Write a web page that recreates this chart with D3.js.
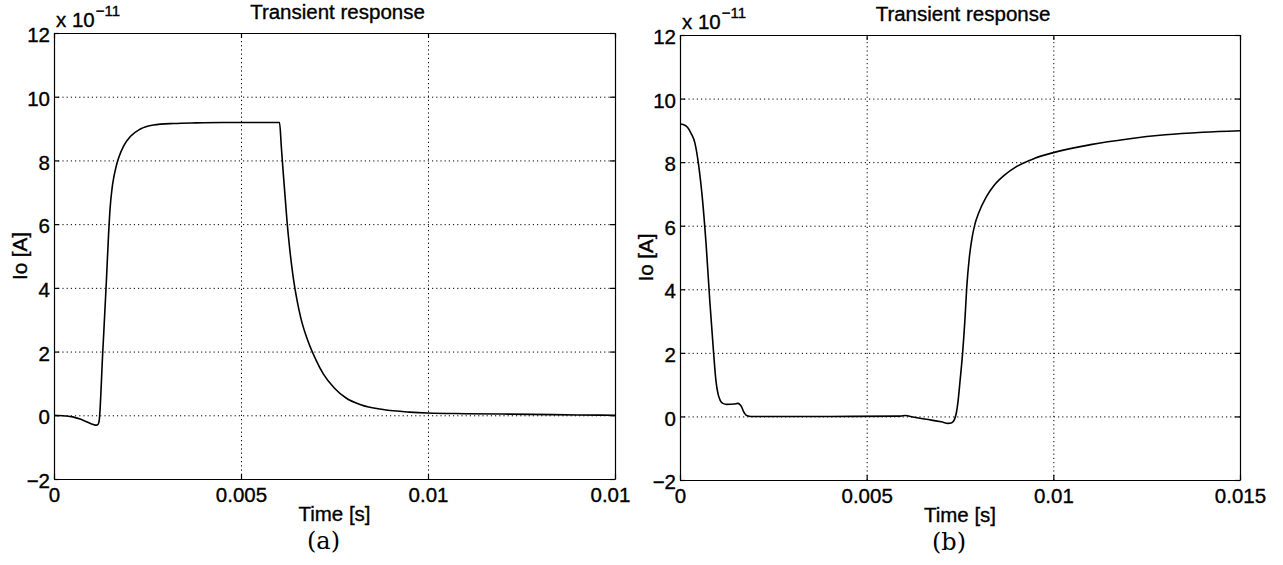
<!DOCTYPE html>
<html>
<head>
<meta charset="utf-8">
<script src="https://cdn.jsdelivr.net/npm/d3@7"></script>
<style>
  html, body { margin: 0; padding: 0; background: #fff; }
  svg { display: block; }
  .lbl { font-family: "Liberation Sans", Arial, Helvetica, sans-serif; fill: #000; stroke: #000; stroke-width: 0.35px; }
  .tag { font-family: "DejaVu Serif", "Liberation Serif", serif; fill: #000; }
</style>
</head>
<body>
<svg id="fig" width="1283" height="565"></svg>
<script>
// Panel (a): output current Io versus time, current in units of 1e-11 A
const timeA = [0, 0.0003, 0.0005, 0.0007, 0.0009, 0.00105, 0.00113, 0.00118, 0.00121, 0.0013,
  0.0014, 0.00146, 0.0015, 0.00155, 0.0016, 0.00166, 0.00172, 0.00186, 0.00204, 0.0023,
  0.00266, 0.0032, 0.0038, 0.0045, 0.00603, 0.00608, 0.00613, 0.00618, 0.00623, 0.0063,
  0.0064, 0.0065, 0.0066, 0.0068, 0.0070, 0.0072, 0.0075, 0.0078, 0.0082, 0.0088,
  0.0095, 0.0100, 0.011, 0.0128, 0.014, 0.015];
const currentA = [0, -0.02, -0.05, -0.12, -0.22, -0.29, -0.31, -0.28, -0.15, 1.9,
  4.2, 5.7, 6.5, 7.1, 7.48, 7.8, 8.05, 8.45, 8.75, 8.98,
  9.11, 9.16, 9.18, 9.19, 9.19, 8.4, 7.6, 6.85, 6.1, 5.25,
  4.3, 3.6, 3.05, 2.3, 1.75, 1.3, 0.85, 0.55, 0.33, 0.18,
  0.1, 0.07, 0.05, 0.03, 0.01, 0.0];

// Panel (b): output current Io versus time, current in units of 1e-11 A
const timeB = [0, 0.0001, 0.0002, 0.0003, 0.0004, 0.0005, 0.0006, 0.0007, 0.0008, 0.0009,
  0.00096, 0.00102, 0.00108, 0.00115, 0.00125, 0.00145, 0.00155, 0.0016, 0.00165, 0.0017,
  0.00174, 0.0018, 0.0019, 0.004, 0.0059, 0.00605, 0.0062, 0.0066, 0.007, 0.00718,
  0.00728, 0.00735, 0.0074, 0.00745, 0.0075, 0.00757, 0.00763, 0.00768, 0.00775, 0.00782,
  0.0079, 0.008, 0.0082, 0.0084, 0.0087, 0.009, 0.0095, 0.01, 0.011, 0.012,
  0.013, 0.014, 0.015];
const currentB = [9.2, 9.18, 9.1, 8.9, 8.6, 7.9, 6.85, 5.4, 3.6, 2.0,
  1.15, 0.7, 0.5, 0.41, 0.38, 0.39, 0.41, 0.38, 0.3, 0.16,
  0.08, 0.02, 0.0, 0.0, 0.01, 0.03, -0.01, -0.09, -0.17, -0.22,
  -0.2, -0.1, 0.1, 0.5, 1.1, 2.0, 3.0, 4.05, 5.0, 5.6,
  6.05, 6.4, 6.9, 7.25, 7.6, 7.85, 8.12, 8.3, 8.55, 8.73,
  8.86, 8.94, 8.99];

// Axis ticks and their labels
const xTicks = [0, 0.005, 0.01, 0.015];
const xTickLabelsA = ["0", "0.005", "0.01", "0.01"];
const xTickLabelsB = ["0", "0.005", "0.01", "0.015"];
const yTicks = [-2, 0, 2, 4, 6, 8, 10, 12];
const yTickLabels = ["\u22122", "0", "2", "4", "6", "8", "10", "12"];

const titleText = "Transient response";
const xLabelText = "Time [s]";
const yLabelText = "Io [A]";
const scaleBase = "x 10";
const scaleExp = "\u221211";
const panelTags = ["(a)", "(b)"];

const svg = d3.select("#fig");
const FS = 20.5;

function drawPanel(p) {
  const x = d3.scaleLinear().domain([0, 0.015]).range([p.left, p.right]);
  const y = d3.scaleLinear().domain([-2, 12]).range([p.bottom, p.top]);
  const W = p.right - p.left, H = p.bottom - p.top;
  const g = svg.append("g");

  // dotted grid
  const gx = g.append("g").attr("transform", `translate(0,${p.bottom})`)
    .call(d3.axisBottom(x).tickValues(xTicks.slice(1, -1)).tickSize(-H).tickFormat(""));
  gx.select(".domain").remove();
  gx.selectAll("line").attr("stroke", "#000").attr("stroke-width", 1).attr("stroke-dasharray", "1.2,3");
  const gy = g.append("g").attr("transform", `translate(${p.left},0)`)
    .call(d3.axisLeft(y).tickValues(yTicks.slice(1, -1)).tickSize(-W).tickFormat(""));
  gy.select(".domain").remove();
  gy.selectAll("line").attr("stroke", "#000").attr("stroke-width", 1).attr("stroke-dasharray", "1.2,3");

  // curve
  const pts = d3.zip(p.time, p.current);
  g.append("path").datum(pts)
    .attr("fill", "none").attr("stroke", "#000").attr("stroke-width", 1.6)
    .attr("stroke-linejoin", "round")
    .attr("d", d3.line().x(d => x(d[0])).y(d => y(d[1])).curve(d3.curveMonotoneX));

  // frame with inward ticks
  const styleAxis = sel => {
    sel.select(".domain").attr("stroke", "#000").attr("stroke-width", 1.2);
    sel.selectAll(".tick line").attr("stroke", "#000").attr("stroke-width", 1.2);
    sel.selectAll("text").attr("class", "lbl").attr("font-size", FS)
      .attr("font-family", null).attr("fill", "#000");
  };
  const bottom = g.append("g").attr("transform", `translate(0,${p.bottom})`)
    .call(d3.axisBottom(x).tickValues(xTicks).tickSizeInner(-5).tickSizeOuter(0).tickPadding(8)
      .tickFormat((d, i) => p.xLabels[i]));
  styleAxis(bottom);
  if (p.lastShift) {
    bottom.selectAll(".tick text").filter((d, i) => i === xTicks.length - 1)
      .attr("text-anchor", "start").attr("x", p.lastShift);
  }
  const top = g.append("g").attr("transform", `translate(0,${p.top})`)
    .call(d3.axisTop(x).tickValues(xTicks).tickSizeInner(-5).tickSizeOuter(0).tickFormat(""));
  styleAxis(top);
  const left = g.append("g").attr("transform", `translate(${p.left},0)`)
    .call(d3.axisLeft(y).tickValues(yTicks).tickSizeInner(-5).tickSizeOuter(0).tickPadding(4)
      .tickFormat((d, i) => yTickLabels[i]));
  styleAxis(left);
  left.selectAll(".tick text").attr("dy", "0.42em");
  const right = g.append("g").attr("transform", `translate(${p.right},0)`)
    .call(d3.axisRight(y).tickValues(yTicks).tickSizeInner(-5).tickSizeOuter(0).tickFormat(""));
  styleAxis(right);

  const cx = (p.left + p.right) / 2;
  // title
  g.append("text").attr("class", "lbl").attr("font-size", FS)
    .attr("x", cx + 3).attr("y", p.top - 14).attr("text-anchor", "middle").text(titleText);
  // exponent multiplier
  const m = g.append("text").attr("class", "lbl").attr("font-size", FS)
    .attr("x", p.left + 2).attr("y", p.top - 6);
  m.append("tspan").text(scaleBase);
  m.append("tspan").attr("font-size", 15).attr("dy", -11).attr("dx", 1).text(scaleExp);
  // axis labels
  g.append("text").attr("class", "lbl").attr("font-size", FS)
    .attr("x", cx).attr("y", p.bottom + 42).attr("text-anchor", "middle").text(xLabelText);
  g.append("text").attr("class", "lbl").attr("font-size", FS)
    .attr("transform", `translate(${p.left - 27},${(p.top + p.bottom) / 2}) rotate(-90)`)
    .attr("text-anchor", "middle").text(yLabelText);
  // panel tag
  g.append("text").attr("class", "tag").attr("font-size", 24)
    .attr("x", cx - 11).attr("y", p.bottom + 70).attr("text-anchor", "middle").text(p.tag);
}

drawPanel({ left: 54, right: 615, top: 33, bottom: 479, time: timeA, current: currentA,
  xLabels: xTickLabelsA, lastShift: -25, tag: panelTags[0] });
drawPanel({ left: 680, right: 1240, top: 35, bottom: 480, time: timeB, current: currentB,
  xLabels: xTickLabelsB, lastShift: 0, tag: panelTags[1] });
</script>
</body>
</html>
